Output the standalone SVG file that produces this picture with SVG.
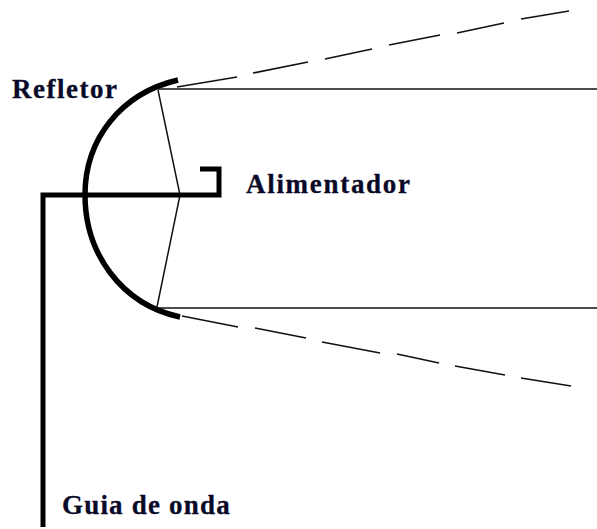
<svg xmlns="http://www.w3.org/2000/svg" width="597" height="529" viewBox="0 0 597 529">
<style>
.thick{fill:none;stroke:#000;stroke-width:5;stroke-linejoin:miter}
.dish{fill:none;stroke:#000;stroke-width:5.5}
.thin{fill:none;stroke:#111;stroke-width:1.5}
.dash{fill:none;stroke:#111;stroke-width:1.7}
text{font-family:"Liberation Serif","Times New Roman",serif;font-weight:bold;font-size:27px;fill:#0a0a28;stroke:#0a0a28;stroke-width:.3px;letter-spacing:1.5px}
</style>
<rect width="597" height="529" fill="#fff"/>
<g id="connectors">
<path class="thin" d="M158 89H597M157 308H597M158 90L180 195L157 307"/>
<path class="dash" d="M177 87L237 77M253 73L308 62M325 59L372 49M389 45L440 35M457 33L504 23M521 19L569 11"/>
<path class="dash" d="M182 316L238 327M255 328L306 338M322 342L380 353M397 354L439 363M455 366L505 375M521 378L571 386"/>
</g>
<g id="refletor"><path class="dish" d="M178 80C122 93 85 138 85 195C85 252 120 304 180 317"/></g>
<g id="guia"><path class="thick" d="M43 527V195H219V169H200"/></g>
<g id="label-refletor"><text x="12" y="98">Refletor</text></g>
<g id="label-alimentador"><text x="246" y="193" style="letter-spacing:1.7px">Alimentador</text></g>
<g id="label-guia"><text x="62" y="514" style="letter-spacing:1.2px">Guia de onda</text></g>
</svg>
